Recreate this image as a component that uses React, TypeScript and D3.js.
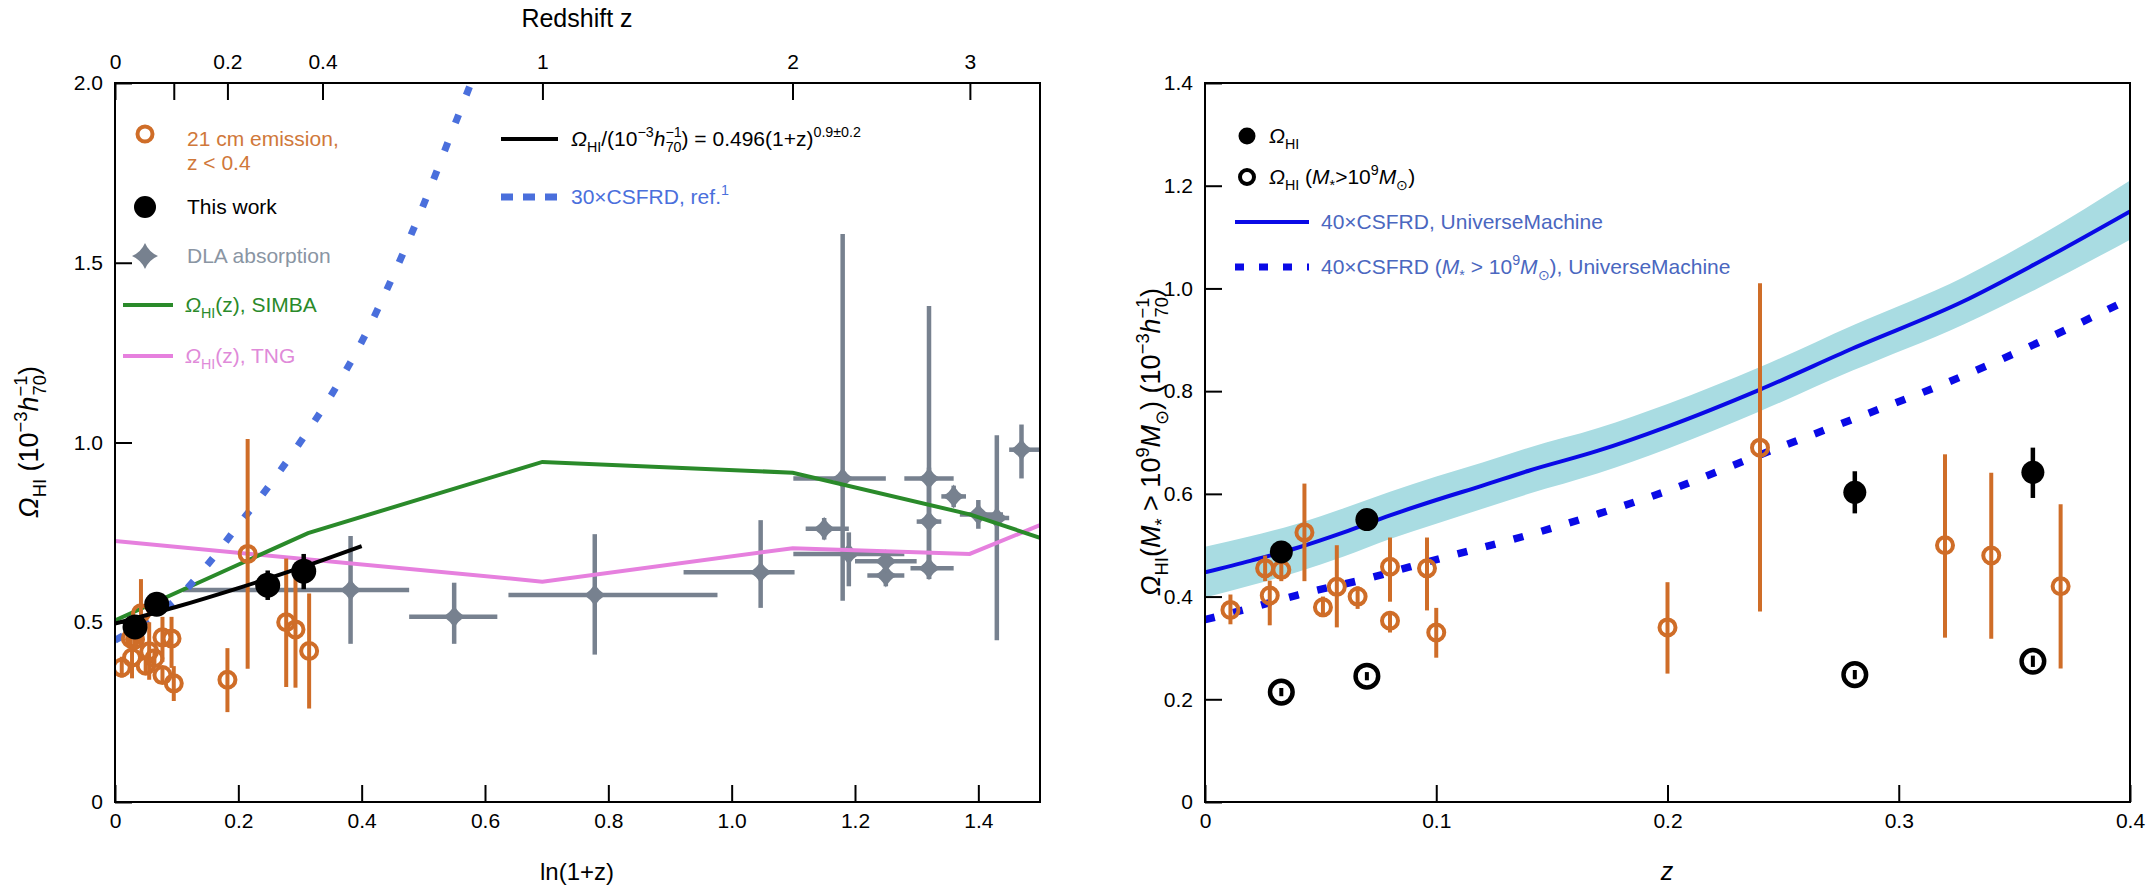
import * as d3 from 'd3';
import React, { useEffect, useRef } from 'react';

// 21 cm emission (z < 0.4), shown in both panels
const emZ = [0.011, 0.026, 0.028, 0.033, 0.043, 0.051, 0.057, 0.066, 0.08, 0.08, 0.096, 0.1, 0.2, 0.24, 0.32, 0.34, 0.37];
const emV = [0.374, 0.455, 0.402, 0.452, 0.525, 0.379, 0.419, 0.4, 0.458, 0.353, 0.455, 0.33, 0.34, 0.69, 0.5, 0.48, 0.42];
const emLo = [0.346, 0.43, 0.344, 0.43, 0.43, 0.36, 0.34, 0.376, 0.39, 0.33, 0.373, 0.281, 0.25, 0.371, 0.32, 0.318, 0.26];
const emHi = [0.404, 0.48, 0.431, 0.475, 0.62, 0.4, 0.5, 0.42, 0.515, 0.372, 0.515, 0.378, 0.428, 1.01, 0.677, 0.641, 0.58];

// this work
const twZ = [0.033, 0.07, 0.281, 0.358];
const twV = [0.487, 0.55, 0.603, 0.642];
const twLo = [0.472, 0.535, 0.562, 0.592];
const twHi = [0.502, 0.565, 0.644, 0.69];

// this work, M* > 1e9 Msun
const tmV = [0.214, 0.245, 0.248, 0.274];
const tmLo = [0.206, 0.237, 0.239, 0.263];
const tmHi = [0.222, 0.253, 0.257, 0.285];

// DLA absorption, in ln(1+z)
const dlaX = [0.382, 0.55, 0.778, 1.047, 1.15, 1.18, 1.19, 1.25, 1.25, 1.32, 1.32, 1.32, 1.36, 1.4, 1.43, 1.47, 1.52];
const dlaV = [0.59, 0.515, 0.576, 0.639, 0.76, 0.9, 0.69, 0.63, 0.67, 0.9, 0.78, 0.65, 0.85, 0.8, 0.79, 0.98, 0.98];
const dlaX0 = [0.11, 0.477, 0.638, 0.922, 1.12, 1.1, 1.1, 1.22, 1.2, 1.28, 1.3, 1.29, 1.34, 1.37, 1.41, 1.45, 1.5];
const dlaX1 = [0.477, 0.62, 0.977, 1.102, 1.19, 1.25, 1.28, 1.28, 1.3, 1.36, 1.34, 1.36, 1.38, 1.44, 1.45, 1.5, 1.55];
const dlaV0 = [0.44, 0.44, 0.41, 0.54, 0.73, 0.56, 0.6, 0.6, 0.64, 0.62, 0.65, 0.62, 0.82, 0.76, 0.45, 0.9, 0.9];
const dlaV1 = [0.74, 0.61, 0.745, 0.784, 0.79, 1.58, 0.75, 0.68, 0.7, 1.38, 0.93, 0.7, 0.88, 0.84, 1.02, 1.05, 1.05];

// simulations and models, left panel
const simbaX = [0, 0.313, 0.693, 1.099, 1.386, 1.5];
const simbaV = [0.505, 0.748, 0.946, 0.916, 0.8, 0.735];
const tngX = [0, 0.693, 1.099, 1.386, 1.5];
const tngV = [0.726, 0.613, 0.706, 0.69, 0.77];
const csfrdX = [0, 0.05, 0.1, 0.15, 0.2, 0.25, 0.3, 0.35, 0.4, 0.45, 0.5, 0.55, 0.6];
const csfrdV = [0.45, 0.5, 0.565, 0.66, 0.77, 0.88, 1.0, 1.13, 1.28, 1.46, 1.66, 1.88, 2.1];
const fitX = [0, 0.1, 0.2, 0.3, 0.4];
const fitV = [0.496, 0.543, 0.595, 0.651, 0.712];

// UniverseMachine, right panel
const umZ = [0, 0.02, 0.04, 0.06, 0.08, 0.1, 0.12, 0.14, 0.17, 0.2, 0.24, 0.28, 0.328, 0.36, 0.4];
const umV = [0.447, 0.47, 0.495, 0.525, 0.558, 0.588, 0.616, 0.645, 0.684, 0.731, 0.803, 0.883, 0.975, 1.05, 1.15];
const umLo = [0.398, 0.422, 0.448, 0.478, 0.512, 0.542, 0.571, 0.6, 0.64, 0.688, 0.761, 0.84, 0.93, 1.0, 1.095];
const umHi = [0.497, 0.518, 0.542, 0.572, 0.604, 0.634, 0.661, 0.69, 0.728, 0.775, 0.847, 0.928, 1.022, 1.1, 1.21];
const ummZ = [0, 0.02, 0.04, 0.07, 0.1, 0.14, 0.17, 0.2, 0.24, 0.28, 0.32, 0.363, 0.4];
const ummV = [0.355, 0.378, 0.403, 0.435, 0.472, 0.52, 0.561, 0.606, 0.676, 0.745, 0.815, 0.9, 0.98];

// ticks
const lnTicks = [0, 0.2, 0.4, 0.6, 0.8, 1.0, 1.2, 1.4];
const lnTickLabels = ['0', '0.2', '0.4', '0.6', '0.8', '1.0', '1.2', '1.4'];
const omTicks = [0, 0.5, 1.0, 1.5, 2.0];
const omTickLabels = ['0', '0.5', '1.0', '1.5', '2.0'];
const topZ = [0, 0.1, 0.2, 0.4, 1, 2, 3];
const topZLabels = ['0', '', '0.2', '0.4', '1', '2', '3'];
const zTicks = [0, 0.1, 0.2, 0.3, 0.4];
const zTickLabels = ['0', '0.1', '0.2', '0.3', '0.4'];
const omRTicks = [0, 0.2, 0.4, 0.6, 0.8, 1.0, 1.2, 1.4];
const omRTickLabels = ['0', '0.2', '0.4', '0.6', '0.8', '1.0', '1.2', '1.4'];

const FONT = '"Liberation Sans", Arial, sans-serif';
const ORANGE = '#cf6d28';
const GREY = '#77818f';
const GREEN = '#2a8a2a';
const PINK = '#e680de';
const LBLUE = '#4a6fdc';
const BLUE = '#0a0ae6';
const BAND = '#a9dce2';

type Part = { t: string; it?: boolean; sh?: 'sub' | 'sup'; dx?: number };

const rich = (
  g: d3.Selection<any, unknown, null, undefined>,
  x: number,
  y: number,
  parts: Part[],
  size: number,
  fill: string,
  rotate = false,
  anchor = 'start',
) => {
  const text = g
    .append('text')
    .attr('x', x)
    .attr('y', y)
    .attr('font-size', size)
    .attr('fill', fill)
    .attr('text-anchor', anchor);
  if (rotate) text.attr('transform', `rotate(-90 ${x} ${y})`);
  parts.forEach((p) => {
    const ts = text.append('tspan').text(p.t);
    if (p.it) ts.attr('font-style', 'italic');
    if (p.sh) {
      ts.attr('font-size', size * 0.68).attr('baseline-shift', p.sh === 'sub' ? `${-size * 0.28}px` : `${size * 0.42}px`);
    }
    if (p.dx) ts.attr('dx', p.dx);
  });
  return text;
};

const starPath = (r: number) => {
  const k = r * 0.3;
  return `M0,${-r}Q${k},${-k} ${r},0Q${k},${k} 0,${r}Q${-k},${k} ${-r},0Q${-k},${-k} 0,${-r}Z`;
};

const App: React.FC = () => {
  const svgRef = useRef<SVGSVGElement | null>(null);

  useEffect(() => {
    const width = 2150;
    const height = 888;
    const svg = d3.select(svgRef.current);
    svg.selectAll('*').remove();
    svg
      .attr('width', width)
      .attr('height', height)
      .attr('viewBox', `0 0 ${width} ${height}`)
      .style('font-family', FONT)
      .style('background', '#fff');

    const xL = d3.scaleLinear().domain([0, 1.5]).range([115, 1040]);
    const yL = d3.scaleLinear().domain([0, 2]).range([802, 83]);
    const xR = d3.scaleLinear().domain([0, 0.4]).range([1205, 2130]);
    const yR = d3.scaleLinear().domain([0, 1.4]).range([802, 83]);

    const defs = svg.append('defs');
    defs.append('clipPath').attr('id', 'clipL').append('rect')
      .attr('x', 115).attr('y', 83).attr('width', 925).attr('height', 719);
    defs.append('clipPath').attr('id', 'clipR').append('rect')
      .attr('x', 1205).attr('y', 83).attr('width', 925).attr('height', 719);

    const styleAxis = (g: d3.Selection<SVGGElement, unknown, null, undefined>) => {
      g.attr('font-family', FONT).attr('font-size', 21);
      g.select('.domain').remove();
      g.selectAll('line').attr('stroke', '#000').attr('stroke-width', 2);
      g.selectAll('text').attr('fill', '#000');
    };

    // ---------- left panel ----------
    const gl = svg.append('g');
    const pl = gl.append('g').attr('clip-path', 'url(#clipL)');

    // DLA
    dlaX.forEach((lx, i) => {
      pl.append('line').attr('x1', xL(dlaX0[i])).attr('x2', xL(dlaX1[i]))
        .attr('y1', yL(dlaV[i])).attr('y2', yL(dlaV[i]))
        .attr('stroke', GREY).attr('stroke-width', 4.5);
      pl.append('line').attr('x1', xL(lx)).attr('x2', xL(lx))
        .attr('y1', yL(dlaV0[i])).attr('y2', yL(dlaV1[i]))
        .attr('stroke', GREY).attr('stroke-width', 4.5);
      pl.append('path').attr('d', starPath(12))
        .attr('transform', `translate(${xL(lx)},${yL(dlaV[i])})`).attr('fill', GREY);
    });

    const lineL = (xs: number[]) =>
      d3.line<number>().x((_, i) => xL(xs[i])).y((d) => yL(d));

    pl.append('path').datum(tngV).attr('d', lineL(tngX))
      .attr('fill', 'none').attr('stroke', PINK).attr('stroke-width', 4);
    pl.append('path').datum(simbaV).attr('d', lineL(simbaX))
      .attr('fill', 'none').attr('stroke', GREEN).attr('stroke-width', 4);
    pl.append('path').datum(csfrdV).attr('d', lineL(csfrdX).curve(d3.curveMonotoneX))
      .attr('fill', 'none').attr('stroke', LBLUE).attr('stroke-width', 7)
      .attr('stroke-dasharray', '9,21');

    // 21 cm emission
    emZ.forEach((z, i) => {
      const lx = xL(Math.log(1 + z));
      pl.append('line').attr('x1', lx).attr('x2', lx)
        .attr('y1', yL(emLo[i])).attr('y2', yL(emHi[i]))
        .attr('stroke', ORANGE).attr('stroke-width', 4);
      pl.append('circle').attr('cx', lx).attr('cy', yL(emV[i])).attr('r', 8)
        .attr('fill', 'none').attr('stroke', ORANGE).attr('stroke-width', 4);
    });

    pl.append('path').datum(fitV).attr('d', lineL(fitX).curve(d3.curveMonotoneX))
      .attr('fill', 'none').attr('stroke', '#000').attr('stroke-width', 4);

    twZ.forEach((z, i) => {
      const lx = xL(Math.log(1 + z));
      pl.append('line').attr('x1', lx).attr('x2', lx)
        .attr('y1', yL(twLo[i])).attr('y2', yL(twHi[i]))
        .attr('stroke', '#000').attr('stroke-width', 4.5);
      pl.append('circle').attr('cx', lx).attr('cy', yL(twV[i])).attr('r', 12.5).attr('fill', '#000');
    });

    // frame and axes
    gl.append('rect').attr('x', 115).attr('y', 83).attr('width', 925).attr('height', 719)
      .attr('fill', 'none').attr('stroke', '#000').attr('stroke-width', 2);

    gl.append('g').attr('transform', 'translate(0,802)')
      .call(d3.axisBottom(xL).tickValues(lnTicks).tickSize(-17).tickPadding(11)
        .tickFormat((_, i) => lnTickLabels[i]))
      .call(styleAxis);
    gl.append('g').attr('transform', 'translate(115,0)')
      .call(d3.axisLeft(yL).tickValues(omTicks).tickSize(-17).tickPadding(12)
        .tickFormat((_, i) => omTickLabels[i]))
      .call(styleAxis);
    gl.append('g').attr('transform', 'translate(0,83)')
      .call(d3.axisTop(xL).tickValues(topZ.map((z) => Math.log(1 + z))).tickSize(-17).tickPadding(14)
        .tickFormat((_, i) => topZLabels[i]))
      .call(styleAxis);

    gl.append('text').attr('x', 577).attr('y', 27).attr('text-anchor', 'middle')
      .attr('font-size', 25).text('Redshift z');
    gl.append('text').attr('x', 577).attr('y', 880).attr('text-anchor', 'middle')
      .attr('font-size', 24).text('ln(1+z)');
    rich(gl, 38, 442, [
      { t: 'Ω', it: true }, { t: 'HI', sh: 'sub' }, { t: ' (10' }, { t: '−3', sh: 'sup' },
      { t: 'h', it: true }, { t: '−1', sh: 'sup' }, { t: '70', sh: 'sub', dx: -20 }, { t: ')' },
    ], 27, '#000', true, 'middle');

    // left legend
    const lg = gl.append('g').attr('font-size', 21);
    lg.append('circle').attr('cx', 145).attr('cy', 134).attr('r', 7.5)
      .attr('fill', 'none').attr('stroke', ORANGE).attr('stroke-width', 4);
    lg.append('text').attr('x', 187).attr('y', 146).attr('fill', '#d0783a').text('21 cm emission,');
    lg.append('text').attr('x', 187).attr('y', 170).attr('fill', '#d0783a').text('z < 0.4');
    lg.append('circle').attr('cx', 145).attr('cy', 207).attr('r', 11).attr('fill', '#000');
    lg.append('text').attr('x', 187).attr('y', 214).attr('fill', '#000').text('This work');
    lg.append('path').attr('d', starPath(13)).attr('transform', 'translate(145,256)').attr('fill', GREY);
    lg.append('text').attr('x', 187).attr('y', 263).attr('fill', '#8a95a3').text('DLA absorption');
    lg.append('line').attr('x1', 123).attr('x2', 173).attr('y1', 305).attr('y2', 305)
      .attr('stroke', GREEN).attr('stroke-width', 4);
    rich(lg, 185, 312, [{ t: 'Ω', it: true }, { t: 'HI', sh: 'sub' }, { t: '(z), SIMBA' }], 21, GREEN);
    lg.append('line').attr('x1', 123).attr('x2', 173).attr('y1', 356).attr('y2', 356)
      .attr('stroke', PINK).attr('stroke-width', 4);
    rich(lg, 185, 363, [{ t: 'Ω', it: true }, { t: 'HI', sh: 'sub' }, { t: '(z), TNG' }], 21, '#e08ad9');

    lg.append('line').attr('x1', 501).attr('x2', 558).attr('y1', 139).attr('y2', 139)
      .attr('stroke', '#000').attr('stroke-width', 4);
    rich(lg, 571, 146, [
      { t: 'Ω', it: true }, { t: 'HI', sh: 'sub' }, { t: '/(10' }, { t: '−3', sh: 'sup' },
      { t: 'h', it: true }, { t: '−1', sh: 'sup' }, { t: '70', sh: 'sub', dx: -16 },
      { t: ') = 0.496(1+z)' }, { t: '0.9±0.2', sh: 'sup' },
    ], 21, '#000');
    lg.append('line').attr('x1', 501).attr('x2', 558).attr('y1', 197).attr('y2', 197)
      .attr('stroke', LBLUE).attr('stroke-width', 7).attr('stroke-dasharray', '12,10');
    rich(lg, 571, 204, [{ t: '30×CSFRD, ref.' }, { t: '1', sh: 'sup' }], 21, LBLUE);

    // ---------- right panel ----------
    const gr = svg.append('g');
    const pr = gr.append('g').attr('clip-path', 'url(#clipR)');

    pr.append('path').datum(umZ)
      .attr('d', d3.area<number>().x((d) => xR(d)).y0((_, i) => yR(umLo[i])).y1((_, i) => yR(umHi[i]))
        .curve(d3.curveMonotoneX))
      .attr('fill', BAND);
    pr.append('path').datum(umV)
      .attr('d', d3.line<number>().x((_, i) => xR(umZ[i])).y((d) => yR(d)).curve(d3.curveMonotoneX))
      .attr('fill', 'none').attr('stroke', BLUE).attr('stroke-width', 4);
    pr.append('path').datum(ummV)
      .attr('d', d3.line<number>().x((_, i) => xR(ummZ[i])).y((d) => yR(d)).curve(d3.curveMonotoneX))
      .attr('fill', 'none').attr('stroke', BLUE).attr('stroke-width', 7.5)
      .attr('stroke-dasharray', '10,19');

    emZ.forEach((z, i) => {
      pr.append('line').attr('x1', xR(z)).attr('x2', xR(z))
        .attr('y1', yR(emLo[i])).attr('y2', yR(emHi[i]))
        .attr('stroke', ORANGE).attr('stroke-width', 4);
      pr.append('circle').attr('cx', xR(z)).attr('cy', yR(emV[i])).attr('r', 8)
        .attr('fill', 'none').attr('stroke', ORANGE).attr('stroke-width', 4);
    });

    twZ.forEach((z, i) => {
      pr.append('line').attr('x1', xR(z)).attr('x2', xR(z))
        .attr('y1', yR(twLo[i])).attr('y2', yR(twHi[i]))
        .attr('stroke', '#000').attr('stroke-width', 4.5);
      pr.append('circle').attr('cx', xR(z)).attr('cy', yR(twV[i])).attr('r', 11.5).attr('fill', '#000');
      pr.append('line').attr('x1', xR(z)).attr('x2', xR(z))
        .attr('y1', yR(tmLo[i])).attr('y2', yR(tmHi[i]))
        .attr('stroke', '#000').attr('stroke-width', 4);
      pr.append('circle').attr('cx', xR(z)).attr('cy', yR(tmV[i])).attr('r', 11.3)
        .attr('fill', 'none').attr('stroke', '#000').attr('stroke-width', 4.5);
    });

    gr.append('rect').attr('x', 1205).attr('y', 83).attr('width', 925).attr('height', 719)
      .attr('fill', 'none').attr('stroke', '#000').attr('stroke-width', 2);
    gr.append('g').attr('transform', 'translate(0,802)')
      .call(d3.axisBottom(xR).tickValues(zTicks).tickSize(-17).tickPadding(11)
        .tickFormat((_, i) => zTickLabels[i]))
      .call(styleAxis);
    gr.append('g').attr('transform', 'translate(1205,0)')
      .call(d3.axisLeft(yR).tickValues(omRTicks).tickSize(-17).tickPadding(12)
        .tickFormat((_, i) => omRTickLabels[i]))
      .call(styleAxis);

    gr.append('text').attr('x', 1667).attr('y', 880).attr('text-anchor', 'middle')
      .attr('font-size', 25).attr('font-style', 'italic').text('z');
    rich(gr, 1160, 442, [
      { t: 'Ω', it: true }, { t: 'HI', sh: 'sub' }, { t: '(' }, { t: 'M', it: true }, { t: '*', sh: 'sub' },
      { t: ' > 10' }, { t: '9', sh: 'sup' }, { t: 'M', it: true }, { t: '⊙', sh: 'sub' },
      { t: ') (10' }, { t: '−3', sh: 'sup' }, { t: 'h', it: true }, { t: '−1', sh: 'sup' },
      { t: '70', sh: 'sub', dx: -20 }, { t: ')' },
    ], 27, '#000', true, 'middle');

    // right legend
    const rg = gr.append('g');
    rg.append('circle').attr('cx', 1247).attr('cy', 136).attr('r', 8.5).attr('fill', '#000');
    rich(rg, 1269, 143, [{ t: 'Ω', it: true }, { t: 'HI', sh: 'sub' }], 21, '#000');
    rg.append('circle').attr('cx', 1247).attr('cy', 177).attr('r', 7)
      .attr('fill', 'none').attr('stroke', '#000').attr('stroke-width', 4);
    rich(rg, 1269, 184, [
      { t: 'Ω', it: true }, { t: 'HI', sh: 'sub' }, { t: ' (' }, { t: 'M', it: true }, { t: '*', sh: 'sub' },
      { t: '>10' }, { t: '9', sh: 'sup' }, { t: 'M', it: true }, { t: '⊙', sh: 'sub' }, { t: ')' },
    ], 21, '#000');
    rg.append('line').attr('x1', 1235).attr('x2', 1309).attr('y1', 222).attr('y2', 222)
      .attr('stroke', BLUE).attr('stroke-width', 4);
    rg.append('text').attr('x', 1321).attr('y', 229).attr('font-size', 21).attr('fill', '#4a67c0')
      .text('40×CSFRD, UniverseMachine');
    rg.append('line').attr('x1', 1235).attr('x2', 1309).attr('y1', 267).attr('y2', 267)
      .attr('stroke', BLUE).attr('stroke-width', 7).attr('stroke-dasharray', '9,15');
    rich(rg, 1321, 274, [
      { t: '40×CSFRD (' }, { t: 'M', it: true }, { t: '*', sh: 'sub' }, { t: ' > 10' }, { t: '9', sh: 'sup' },
      { t: 'M', it: true }, { t: '⊙', sh: 'sub' }, { t: '), UniverseMachine' },
    ], 21, '#4a67c0');
  }, []);

  return <svg ref={svgRef} style={{ position: 'absolute', left: 0, top: 0 }}></svg>;
};

export default App;
